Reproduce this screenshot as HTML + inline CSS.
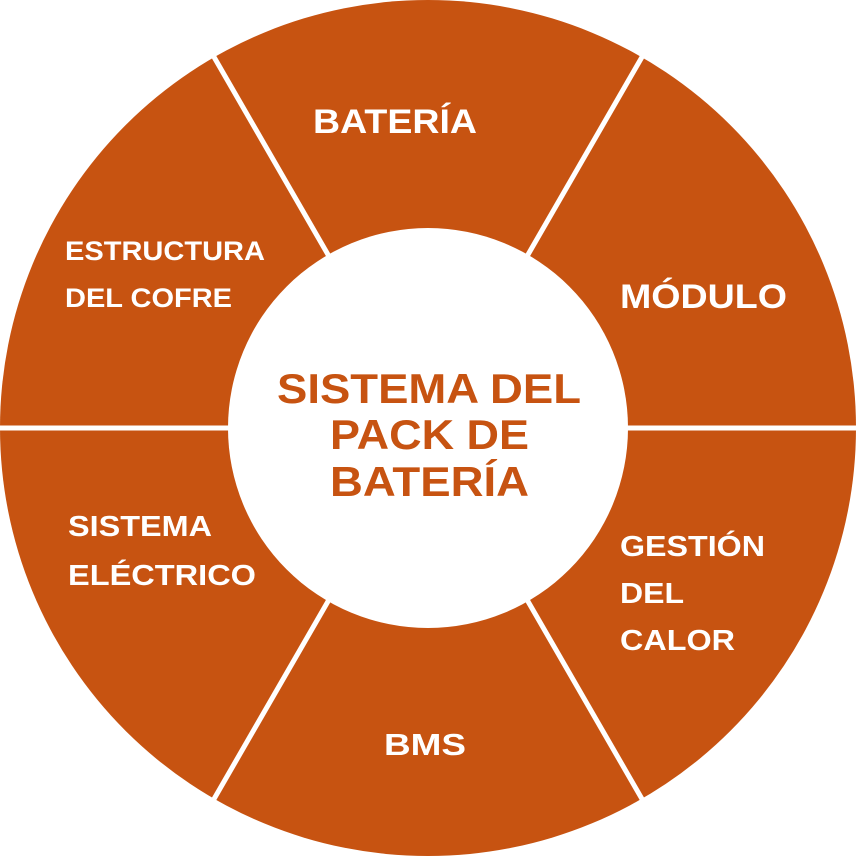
<!DOCTYPE html>
<html><head><style>
body{margin:0;background:#fff;}
svg text{font-family:"Liberation Sans",sans-serif;font-weight:bold;}
</style></head><body>
<svg width="856" height="857" viewBox="0 0 856 857" xmlns="http://www.w3.org/2000/svg">
<circle cx="428" cy="428" r="428" fill="#C75311"/>
<g stroke="#fff" stroke-width="5">
<line x1="-10" y1="428" x2="866" y2="428"/>
<line x1="428" y1="428" x2="214" y2="57"/>
<line x1="428" y1="428" x2="642" y2="57"/>
<line x1="428" y1="428" x2="214" y2="799"/>
<line x1="428" y1="428" x2="642" y2="799"/>
</g>
<circle cx="428" cy="428" r="200" fill="#fff"/>
<g fill="#fff">
<text x="313" y="133" font-size="34" textLength="164" lengthAdjust="spacingAndGlyphs">BATERÍA</text>
<text x="620" y="308" font-size="34" textLength="167" lengthAdjust="spacingAndGlyphs">MÓDULO</text>
<text x="65" y="260" font-size="27" textLength="200" lengthAdjust="spacingAndGlyphs">ESTRUCTURA</text>
<text x="65" y="307" font-size="27" textLength="167" lengthAdjust="spacingAndGlyphs">DEL COFRE</text>
<text x="68" y="536" font-size="29" textLength="144" lengthAdjust="spacingAndGlyphs">SISTEMA</text>
<text x="68" y="585" font-size="29" textLength="188" lengthAdjust="spacingAndGlyphs">ELÉCTRICO</text>
<text x="620" y="556" font-size="29" textLength="145" lengthAdjust="spacingAndGlyphs">GESTIÓN</text>
<text x="620" y="603" font-size="29" textLength="64" lengthAdjust="spacingAndGlyphs">DEL</text>
<text x="620" y="650" font-size="29" textLength="115" lengthAdjust="spacingAndGlyphs">CALOR</text>
<text x="384" y="755" font-size="31" textLength="82" lengthAdjust="spacingAndGlyphs">BMS</text>
</g>
<g fill="#C75311" font-size="42">
<text x="277" y="403" textLength="304" lengthAdjust="spacingAndGlyphs">SISTEMA DEL</text>
<text x="330" y="449" textLength="199" lengthAdjust="spacingAndGlyphs">PACK DE</text>
<text x="330" y="496" textLength="199" lengthAdjust="spacingAndGlyphs">BATERÍA</text>
</g>
</svg>
</body></html>
